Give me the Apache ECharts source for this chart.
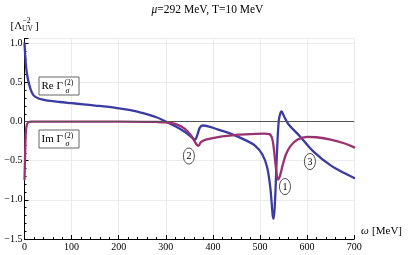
<!DOCTYPE html>
<html><head><meta charset="utf-8">
<script src="https://cdn.jsdelivr.net/npm/echarts@6/dist/echarts.min.js"></script>
<style>html,body{margin:0;padding:0;background:#fff}#c{width:415px;height:255px}</style>
</head><body><div id="c"></div>
<script>
// ω [MeV] sample positions and values
const omegaRe = [0,1.5,3,5,8,12,15,20,30,40,50,75,100,125,150,175,200,225,250,265,280,290,300,320,340,355,362,367,372,378,390,410,440,470,490,505,515,522,527,529,532,536,540,544,546,550,560,585,613,650,680,700];
const reValues = [1.0,0.85,0.72,0.62,0.52,0.43,0.38,0.33,0.295,0.28,0.268,0.25,0.235,0.22,0.205,0.19,0.17,0.145,0.11,0.085,0.055,0.03,0.0,-0.06,-0.13,-0.20,-0.23,-0.17,-0.08,-0.05,-0.06,-0.10,-0.16,-0.24,-0.31,-0.42,-0.58,-0.85,-1.2,-1.24,-1.0,-0.4,0.02,0.12,0.13,0.08,-0.03,-0.19,-0.38,-0.56,-0.66,-0.72];
const omegaIm = [0,1,2,3,5,8,15,100,200,280,300,320,340,355,365,369,375,385,400,420,450,480,510,520,526,530,534,538,542,548,555,565,580,600,620,650,680,700];
const imValues = [-0.74,-0.5,-0.25,-0.12,-0.04,-0.01,0,0,0,-0.005,-0.01,-0.03,-0.09,-0.19,-0.29,-0.31,-0.26,-0.23,-0.21,-0.19,-0.17,-0.16,-0.155,-0.16,-0.22,-0.38,-0.6,-0.74,-0.7,-0.56,-0.42,-0.31,-0.23,-0.195,-0.2,-0.23,-0.28,-0.33];
const xTicks = [0,100,200,300,400,500,600,700];
const yTicks = [-1.5,-1.0,-0.5,0.0,0.5,1.0];
const circledLabels = [{t:'2',x:349,y:-0.44},{t:'1',x:553,y:-0.83},{t:'3',x:606,y:-0.51}];

const SERIF = '"Liberation Serif","DejaVu Serif",serif';
const chart = echarts.init(document.getElementById('c'), null, {renderer:'canvas'});
const zip = (xs, ys) => xs.map((x,i)=>[x, ys[i]]);

chart.setOption({
  animation:false,
  backgroundColor:'#fff',
  grid:{left:24.5,right:60.8,top:38.6,bottom:16,containLabel:false},
  xAxis:{type:'value',min:xTicks[0],max:xTicks[xTicks.length-1],interval:100,
    axisLine:{show:true,onZero:false,lineStyle:{color:'#000',width:1}},
    axisTick:{show:true,inside:true,length:4,lineStyle:{color:'#000'}},
    minorTick:{show:true,splitNumber:5,length:2,lineStyle:{color:'#000'}},
    splitLine:{show:true,lineStyle:{color:'#ebebeb',width:1}},
    axisLabel:{fontFamily:SERIF,fontSize:10,color:'#000',margin:3}
  },
  yAxis:{type:'value',min:yTicks[0],max:1.06,interval:0.5,
    axisLine:{show:true,onZero:false,lineStyle:{color:'#000',width:1}},
    axisTick:{show:true,inside:true,length:4,lineStyle:{color:'#000'}},
    minorTick:{show:true,splitNumber:5,length:2,lineStyle:{color:'#000'}},
    splitLine:{show:true,lineStyle:{color:'#ebebeb',width:1}},
    axisLabel:{fontFamily:SERIF,fontSize:10,color:'#000',margin:2,showMaxLabel:false,
      formatter:v=>yTicks.some(t=>Math.abs(t-v)<1e-9)?v.toFixed(1).replace('-','\u2212'):''}
  },
  series:[
    {type:'line',name:'zero',data:[],silent:true,z:1,
      markLine:{silent:true,symbol:'none',label:{show:false},
        lineStyle:{color:'#555',width:1,type:'solid'},data:[{yAxis:0}]}},
    {type:'line',name:'Re',data:zip(omegaRe,reValues),showSymbol:false,smooth:0.35,z:3,
      lineStyle:{color:'#3b3ba3',width:2.3,join:'round',cap:'round'}},
    {type:'line',name:'Im',data:zip(omegaIm,imValues),showSymbol:false,smooth:0.35,z:4,
      lineStyle:{color:'#9a3272',width:2.3,join:'round',cap:'round'}}
  ]
});

function txt(x, y, text, font, align, z){
  return {type:'text',x:x,y:y,z:z||11,style:{text:text,font:font,fill:'#000',align:align||'left',verticalAlign:'middle'}};
}
function boxLabel(left, top, prefix){
  return {type:'group',children:[
    {type:'rect',shape:{x:left,y:top,width:40,height:18},style:{fill:'#fff',stroke:'#666',lineWidth:1},z:10},
    txt(left+2.5, top+9.5, prefix, '11px '+SERIF, 'left'),
    txt(left+25.5, top+6, '(2)', '7.5px '+SERIF, 'left'),
    txt(left+26.5, top+13.5, '\u03c3', 'italic 8px '+SERIF, 'left')
  ]};
}

const g = [
  {type:'text',left:'center',top:4,style:{rich:{i:{font:'italic 11.5px '+SERIF},n:{font:'11.5px '+SERIF}},text:'{i|\u03bc}{n|=292 MeV, T=10 MeV}',fill:'#000'}},
  txt(10.5, 26.5, '[\u039b', '11px '+SERIF, 'left'),
  txt(22.5, 21.5, '\u22122', '7.5px '+SERIF, 'left'),
  txt(22, 29.5, 'UV', '7.5px '+SERIF, 'left'),
  txt(35, 26.5, ']', '11px '+SERIF, 'left'),
  {type:'text',x:361,y:231,style:{rich:{i:{font:'italic 11px '+SERIF},n:{font:'11px '+SERIF}},text:'{i|\u03c9} {n|[MeV]}',fill:'#000',verticalAlign:'middle'}},
  boxLabel(39,77,'Re \u0393'),
  boxLabel(39,130,'Im \u0393')
];
circledLabels.forEach(c=>{
  const p = chart.convertToPixel({gridIndex:0},[c.x,c.y]);
  g.push({type:'ellipse',shape:{cx:p[0],cy:p[1],rx:5.5,ry:8},style:{fill:'#fff',stroke:'#222',lineWidth:0.8},z:10});
  g.push(txt(p[0], p[1]+0.5, c.t, '10px '+SERIF, 'center'));
});
chart.setOption({graphic:g});
</script></body></html>
